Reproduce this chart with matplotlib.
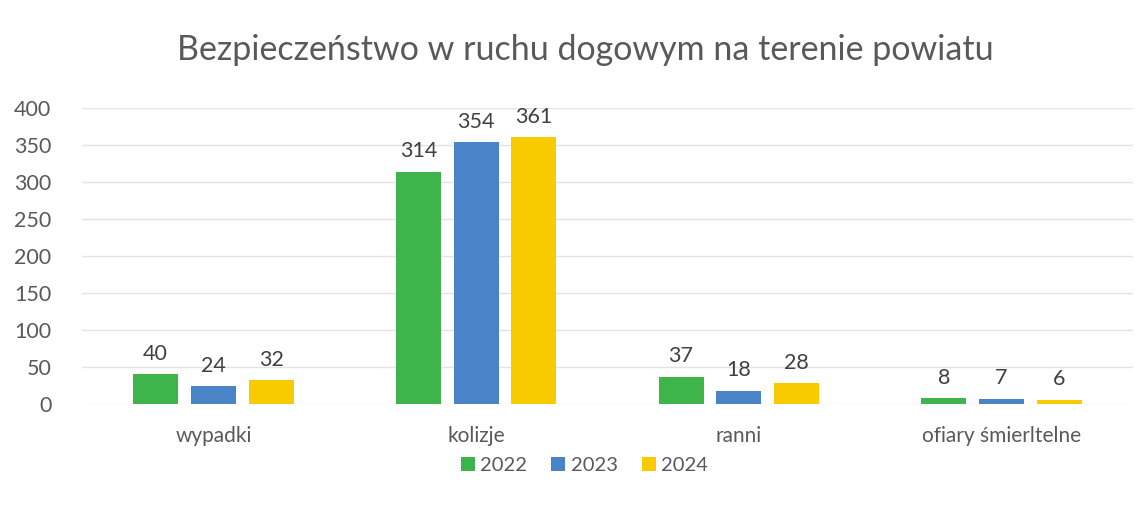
import numpy as np
import matplotlib.pyplot as plt

# Dane - bezpieczenstwo w ruchu drogowym
kategorie = ['wypadki', 'kolizje', 'ranni', 'ofiary śmierltelne']
lata = ['2022', '2023', '2024']
dane_2022 = [40, 314, 37, 8]
dane_2023 = [24, 354, 18, 7]
dane_2024 = [32, 361, 28, 6]

kolory = ['#3DB54A', '#4A84C6', '#F7CB00']
szary = '#595959'

plt.rcParams['font.family'] = ['Lato', 'DejaVu Sans']

fig = plt.figure(figsize=(11.46, 5.22), dpi=100)
ax = fig.add_axes([0.0716, 0.226, 0.917, 0.567])

x = np.arange(len(kategorie))
szer = 0.171
krok = 0.22

for i, (rok, wartosci) in enumerate(zip(lata, [dane_2022, dane_2023, dane_2024])):
    pos = x + (i - 1) * krok
    bars = ax.bar(pos, wartosci, width=szer, color=kolory[i], label=rok, zorder=3)
    for b, v in zip(bars, wartosci):
        ax.text(b.get_x() + b.get_width() / 2, v + 14, str(v),
                ha='center', va='bottom', fontsize=15.5, color='#404040')

ax.set_xlim(-0.5, 3.5)
ax.set_ylim(0, 400)
ax.set_yticks(range(0, 401, 50))
ax.set_xticks(x)
ax.set_xticklabels(kategorie)
ax.grid(axis='y', color='#e3e3e3', linewidth=1, zorder=0)
for s in ax.spines.values():
    s.set_visible(False)
ax.tick_params(axis='both', length=0, labelcolor=szary)
ax.tick_params(axis='y', labelsize=15.5, pad=22)
ax.tick_params(axis='x', labelsize=15, pad=16)

fig.text(0.511, 0.905, 'Bezpieczeństwo w ruchu dogowym na terenie powiatu',
         ha='center', va='center', fontsize=24.5, color=szary)

fig.legend(loc='center', bbox_to_anchor=(0.51, 0.108), ncol=3, frameon=False,
           fontsize=14.5, labelcolor=szary, handlelength=0.7, handleheight=0.7,
           handletextpad=0.25, columnspacing=1.2)

fig.savefig('out.png', dpi=100, facecolor='white')
